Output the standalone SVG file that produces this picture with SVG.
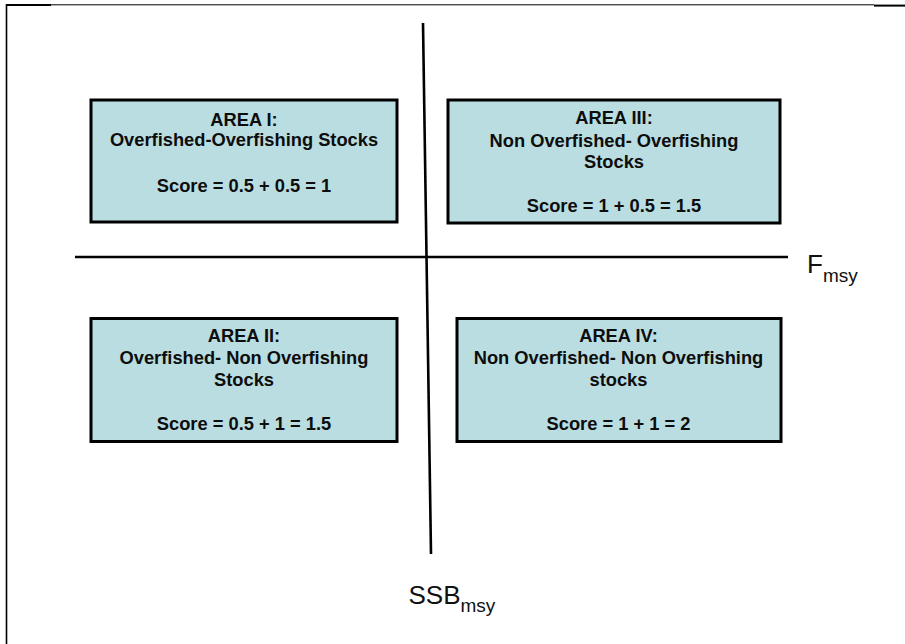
<svg xmlns="http://www.w3.org/2000/svg" width="905" height="644" viewBox="0 0 905 644">
<style>
.box{fill:#BADDE1;stroke:#000;stroke-width:3}
.t{font-family:"Liberation Sans",Arial,sans-serif;font-weight:bold;font-size:18.3px;fill:#0d0d0d;text-anchor:middle}
.ax{stroke:#000;stroke-width:2.6;fill:none}
.lbl{font-family:"Liberation Sans",Arial,sans-serif;font-size:26px;fill:#111}
.sub{font-size:19px}
.fr{stroke:#000;fill:none}
</style>
<rect width="905" height="644" fill="#fff"/>
<g id="frame">
<line class="fr" x1="6.5" y1="4" x2="6.5" y2="644" stroke-width="1.6"/>
<line class="fr" x1="6" y1="4.8" x2="874" y2="4.8" stroke-width="1"/>
<line class="fr" x1="6" y1="5" x2="51" y2="5" stroke-width="2"/>
<line class="fr" x1="874" y1="5.6" x2="905" y2="5.6" stroke-width="2"/>
</g>
<g id="connectors">
<line class="ax" x1="75" y1="257" x2="788" y2="257"/>
<line class="ax" x1="423" y1="23" x2="431" y2="554"/>
</g>
<g id="area1">
<rect class="box" x="91" y="100" width="306" height="122"/>
<text class="t" x="244" y="125.5">AREA I:</text>
<text class="t" x="244" y="145.5">Overfished-Overfishing Stocks</text>
<text class="t" x="244" y="192">Score = 0.5 + 0.5 = 1</text>
</g>
<g id="area3">
<rect class="box" x="448" y="100" width="332" height="123"/>
<text class="t" x="614" y="124">AREA III:</text>
<text class="t" x="614" y="146.5">Non Overfished- Overfishing</text>
<text class="t" x="614" y="168">Stocks</text>
<text class="t" x="614" y="212">Score = 1 + 0.5 = 1.5</text>
</g>
<g id="area2">
<rect class="box" x="91" y="318.5" width="306" height="123"/>
<text class="t" x="244" y="341.5">AREA II:</text>
<text class="t" x="244" y="364">Overfished- Non Overfishing</text>
<text class="t" x="244" y="385.5">Stocks</text>
<text class="t" x="244" y="430">Score = 0.5 + 1 = 1.5</text>
</g>
<g id="area4">
<rect class="box" x="457" y="318.5" width="324" height="123"/>
<text class="t" x="618.5" y="341.5">AREA IV:</text>
<text class="t" x="618.5" y="364">Non Overfished- Non Overfishing</text>
<text class="t" x="618.5" y="385.5">stocks</text>
<text class="t" x="618.5" y="430">Score = 1 + 1 = 2</text>
</g>
<g id="fmsy">
<text class="lbl" x="807" y="272.5">F<tspan class="sub" dy="9">msy</tspan></text>
</g>
<g id="ssbmsy">
<text class="lbl" x="408.5" y="603.5">SSB<tspan class="sub" dy="8">msy</tspan></text>
</g>
</svg>
